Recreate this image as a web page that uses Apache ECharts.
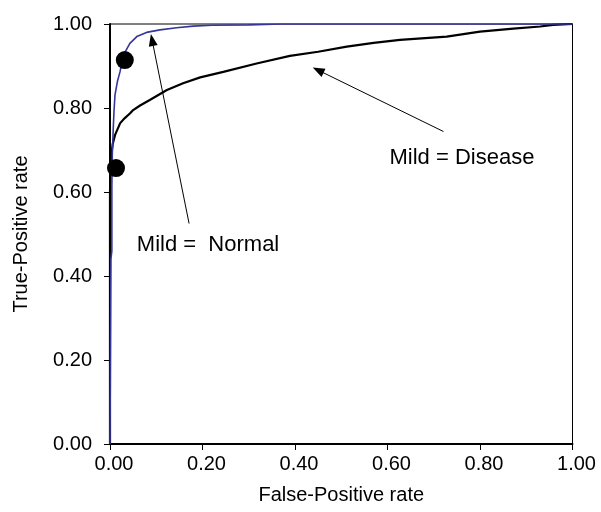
<!DOCTYPE html>
<html>
<head>
<meta charset="utf-8">
<script src="https://cdn.jsdelivr.net/npm/echarts@6/dist/echarts.min.js"></script>
<style>
  html, body { margin: 0; padding: 0; background: #fff; }
  #chart { width: 601px; height: 512px; }
</style>
</head>
<body>
<div id="chart"></div>
<script>
// ROC curves: [false-positive rate, true-positive rate]
const rocNormal = [
  [0, 0], [0.002, 0.44], [0.004, 0.46], [0.004, 0.61], [0.005, 0.69],
  [0.007, 0.75], [0.0086, 0.791], [0.0108, 0.831], [0.016, 0.863],
  [0.0216, 0.886], [0.029, 0.926], [0.043, 0.954], [0.058, 0.970],
  [0.079, 0.980], [0.108, 0.986], [0.144, 0.991], [0.18, 0.995],
  [0.22, 0.997], [0.30, 0.998], [0.37, 1.0], [1.0, 1.0]
];
const rocDisease = [
  [0, 0], [0, 0.60], [0.002, 0.66], [0.003, 0.69], [0.006, 0.715],
  [0.011, 0.736], [0.022, 0.764], [0.032, 0.776], [0.043, 0.787],
  [0.05, 0.795], [0.065, 0.806], [0.086, 0.819], [0.123, 0.843],
  [0.158, 0.859], [0.195, 0.873], [0.245, 0.886], [0.317, 0.906],
  [0.389, 0.924], [0.45, 0.934], [0.512, 0.946], [0.57, 0.955],
  [0.627, 0.962], [0.728, 0.970], [0.80, 0.982], [0.872, 0.989],
  [0.93, 0.994], [0.958, 0.998], [1.0, 1.0]
];
// Operating points marked on each curve
const cutPoints = [[0.032, 0.914], [0.013, 0.657]];
// Annotation labels and arrows (from label to curve)
const labelNormal = { text: 'Mild =  Normal', at: [0.212, 0.474] };
const labelDisease = { text: 'Mild = Disease', at: [0.761, 0.681] };
const arrowNormal = [[0.171, 0.525], [0.091, 0.962]];
const arrowDisease = [[0.721, 0.744], [0.450, 0.890]];
const ticks = [0, 0.2, 0.4, 0.6, 0.8, 1.0];

const FONT = 'Liberation Sans, Arial, sans-serif';
const chart = echarts.init(document.getElementById('chart'), null, { renderer: 'canvas' });

const axisCommon = {
  type: 'value', min: ticks[0], max: ticks[ticks.length - 1], interval: ticks[1] - ticks[0],
  axisLine: { show: true, onZero: false, lineStyle: { color: '#000', width: 2 } },
  axisTick: { show: true, inside: false, length: 6, lineStyle: { color: '#000', width: 1 } },
  splitLine: { show: false },
  axisLabel: { color: '#000', fontFamily: FONT, fontSize: 20, formatter: v => v.toFixed(2) },
  nameLocation: 'middle',
  nameTextStyle: { color: '#000', fontFamily: FONT, fontSize: 20 }
};

chart.setOption({
  animation: false,
  backgroundColor: '#fff',
  grid: { left: 110, right: 28.5, top: 24, bottom: 68, show: true, borderColor: '#000', borderWidth: 1 },
  xAxis: Object.assign({}, axisCommon, {
    name: 'False-Positive rate', nameGap: 41,
    axisLabel: Object.assign({}, axisCommon.axisLabel, { margin: 10, padding: [0, 0, 0, 8] })
  }),
  yAxis: Object.assign({}, axisCommon, {
    name: 'True-Positive rate', nameGap: 79,
    axisLabel: Object.assign({}, axisCommon.axisLabel, { margin: 18 })
  }),
  series: [
    {
      name: 'Mild = Normal', type: 'line', data: rocNormal, showSymbol: false,
      lineStyle: { color: '#35359a', width: 1.6 }, z: 3
    },
    {
      name: 'Mild = Disease', type: 'line', data: rocDisease, showSymbol: false,
      lineStyle: { color: '#000', width: 2.2 }, z: 2
    },
    {
      type: 'scatter', data: cutPoints, symbol: 'circle', symbolSize: 18,
      itemStyle: { color: '#000', opacity: 1 }, z: 5
    },
    {
      // annotation arrows and labels
      type: 'scatter', symbolSize: 0, silent: true,
      itemStyle: { opacity: 1 },
      data: [
        { value: labelNormal.at, label: { formatter: labelNormal.text } },
        { value: labelDisease.at, label: { formatter: labelDisease.text } }
      ],
      label: { show: true, position: 'inside', color: '#000', opacity: 1, fontFamily: FONT, fontSize: 22 },
      markLine: {
        silent: true, animation: false,
        symbol: ['none', 'triangle'], symbolSize: [9, 12],
        label: { show: false },
        lineStyle: { color: '#000', width: 1, type: 'solid', opacity: 1 },
        data: [
          [{ coord: arrowNormal[0] }, { coord: arrowNormal[1] }],
          [{ coord: arrowDisease[0] }, { coord: arrowDisease[1] }]
        ]
      }
    }
  ]
});
</script>
</body>
</html>
